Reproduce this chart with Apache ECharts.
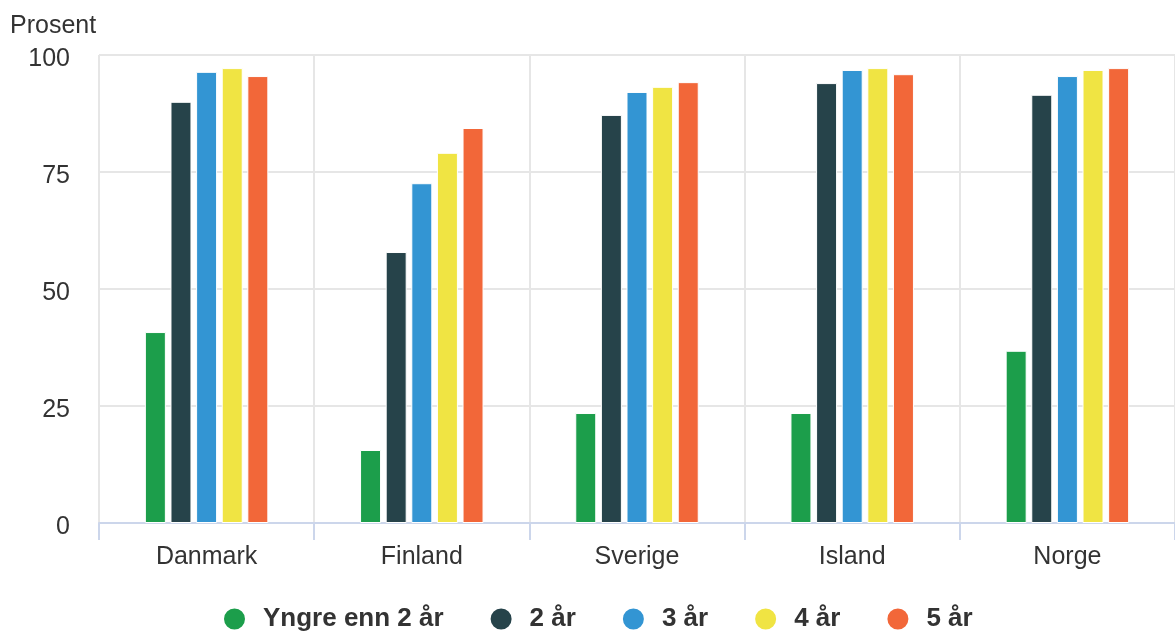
<!DOCTYPE html>
<html>
<head>
<meta charset="utf-8">
<script src="https://cdn.jsdelivr.net/npm/echarts@6/dist/echarts.min.js"></script>
<style>
  html, body { margin: 0; padding: 0; background: #fff; }
  #chart { width: 1175px; height: 633px; }
</style>
</head>
<body>
<div id="chart"></div>
<script>
const countries = ['Danmark', 'Finland', 'Sverige', 'Island', 'Norge'];
const seriesNames = ['Yngre enn 2 år', '2 år', '3 år', '4 år', '5 år'];
const under2 = [40.8, 15.6, 23.5, 23.5, 36.8];
const age2 = [90.0, 57.9, 87.2, 94.0, 91.5];
const age3 = [96.4, 72.6, 92.1, 96.8, 95.5];
const age4 = [97.2, 79.1, 93.2, 97.2, 96.8];
const age5 = [95.5, 84.4, 94.2, 95.9, 97.2];
const yTicks = [0, 25, 50, 75, 100];
const colors = ['#1c9e4b', '#26434a', '#3395d3', '#f0e443', '#f26739'];

const values = [under2, age2, age3, age4, age5];
const chart = echarts.init(document.getElementById('chart'));

chart.setOption({
  animation: false,
  color: colors,
  textStyle: { fontFamily: 'Arial, "Liberation Sans", sans-serif' },
  title: {
    text: 'Prosent',
    left: 5,
    top: 9,
    textStyle: { fontSize: 25, fontWeight: 'normal', color: '#333' }
  },
  grid: { left: 99, right: -4, top: 55, bottom: 110, containLabel: false },
  legend: {
    top: 601,
    left: 217,
    icon: 'circle',
    itemWidth: 23,
    itemHeight: 23,
    itemGap: 45,
    textStyle: { fontSize: 26, fontWeight: 'bold', color: '#333', padding: [0, 0, 0, 12] }
  },
  xAxis: {
    type: 'category',
    data: countries,
    axisLine: { lineStyle: { color: '#ccd6eb', width: 2 } },
    axisTick: { show: true, length: 17, lineStyle: { color: '#ccd6eb', width: 2 } },
    splitLine: { show: true, lineStyle: { color: '#e6e6e6', width: 2 } },
    axisLabel: { fontSize: 25, color: '#333', margin: 22 }
  },
  yAxis: {
    type: 'value',
    min: yTicks[0],
    max: yTicks[yTicks.length - 1],
    interval: 25,
    axisLine: { show: false },
    axisTick: { show: false },
    splitLine: { lineStyle: { color: '#e6e6e6', width: 2 } },
    axisLabel: {
      margin: 29,
      formatter: '{v|{value}}',
      rich: { v: { fontSize: 25, color: '#333', padding: [8, 0, 0, 0] } }
    }
  },
  series: seriesNames.map((name, i) => ({
    name,
    type: 'bar',
    data: values[i],
    barWidth: 21,
    barGap: '22%',
    itemStyle: { borderColor: '#fff', borderWidth: 1 }
  }))
});
</script>
</body>
</html>
